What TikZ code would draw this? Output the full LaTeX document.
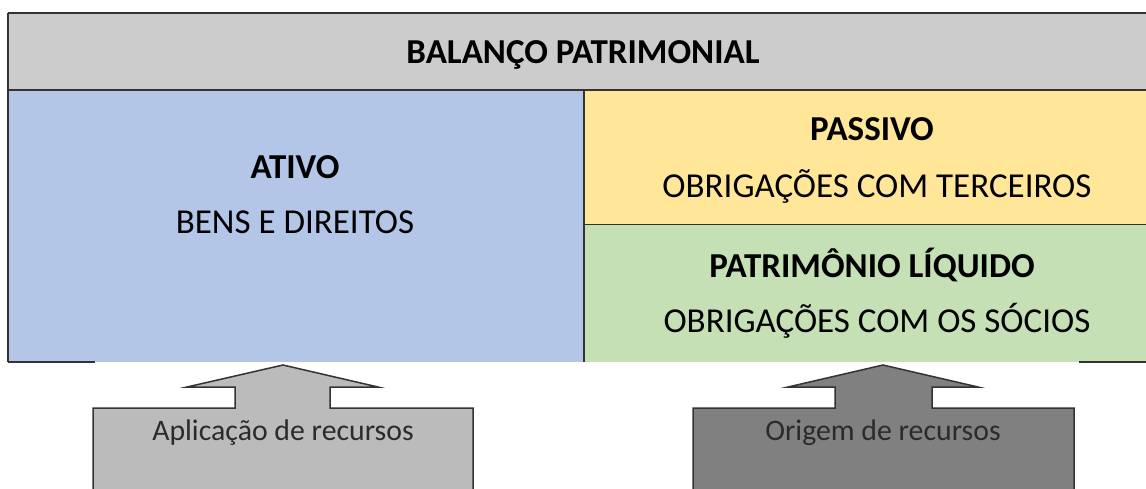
\documentclass[tikz,border=0pt]{standalone}
\usepackage{fontspec}
\setmainfont{Carlito}
\definecolor{hdr}{HTML}{CCCCCC}
\definecolor{ativo}{HTML}{B4C6E7}
\definecolor{passivo}{HTML}{FFE699}
\definecolor{pl}{HTML}{C5E0B4}
\definecolor{rule}{HTML}{333333}
\definecolor{arrlight}{HTML}{BBBBBB}
\definecolor{arrdark}{HTML}{808080}
\definecolor{arrtext}{HTML}{2B2B2B}
\tikzset{
  bigtxt/.style={anchor=base, inner sep=0pt, font=\fontsize{35}{41}\selectfont},
  bigbold/.style={bigtxt, font=\fontsize{35}{41}\selectfont\bfseries},
  arrtxt/.style={anchor=base, inner sep=0pt, text=arrtext, font=\fontsize{29.8}{35}\selectfont},
  tline/.style={draw=rule, line width=2pt},
  thin/.style={draw=rule, line width=1.3pt},
  arrline/.style={draw=black!80, line width=1.5pt, line join=miter}
}
\begin{document}
\begin{tikzpicture}[x=1pt,y=-1pt]
\useasboundingbox (0,0) rectangle (1146,488);
% fills
\fill[hdr] (8,13) rectangle (1146,90);
\fill[ativo] (8,90) rectangle (584,362);
\fill[passivo] (584,90) rectangle (1146,224.5);
\fill[pl] (584,224.5) rectangle (1146,362);
% rules
\coordinate (tl) at (8,13);
\coordinate (tr) at (1146,13);
\coordinate (hl) at (8,90);
\coordinate (hr) at (1146,90);
\coordinate (bl) at (8,362);
\coordinate (mt) at (584,90);
\coordinate (mb) at (584,362);
\coordinate (dl) at (584,224.5);
\coordinate (dr) at (1146,224.5);
\draw[tline] (tl) -- (tr);
\draw[tline] (tl) -- (bl);
\draw[tline] (hl) -- (hr);
\draw[tline] (mt) -- (mb);
\draw[thin] (dl) -- (dr);
\draw[thin] (bl) -- (95,362);
\draw[thin] (1079,362) -- (1146,362);
% texts
\node[bigbold] (title) at (583,63) {BALANÇO PATRIMONIAL};
\node[bigbold] (ativo) at (295,178) {ATIVO};
\node[bigtxt] (bens) at (295,233) {BENS E DIREITOS};
\node[bigbold] (passivo) at (872,140) {PASSIVO};
\node[bigtxt] (obt) at (877,197) {OBRIGAÇÕES COM TERCEIROS};
\node[bigbold] (pl) at (872,277) {PATRIMÔNIO LÍQUIDO};
\node[bigtxt] (obs) at (877,332) {OBRIGAÇÕES COM OS SÓCIOS};
% left arrow
\fill[arrlight] (93,492) -- (93,408) -- (235,408) -- (235,387) -- (187,387) -- (283,365) -- (378,387) -- (330,387) -- (330,408) -- (473,408) -- (473,492) -- cycle;
\draw[arrline] (93,492) -- (93,408) -- (235,408) -- (235,387) -- (187,387) -- (283,365) -- (378,387) -- (330,387) -- (330,408) -- (473,408) -- (473,492);
% right arrow
\fill[arrdark] (693,492) -- (693,408) -- (835,408) -- (835,387) -- (788,387) -- (883,365) -- (978,387) -- (932,387) -- (932,408) -- (1074,408) -- (1074,492) -- cycle;
\draw[arrline] (693,492) -- (693,408) -- (835,408) -- (835,387) -- (788,387) -- (883,365) -- (978,387) -- (932,387) -- (932,408) -- (1074,408) -- (1074,492);
\node[arrtxt] (aplic) at (283,440) {Aplicação de recursos};
\node[arrtxt] (orig) at (883,440) {Origem de recursos};
\end{tikzpicture}
\end{document}
